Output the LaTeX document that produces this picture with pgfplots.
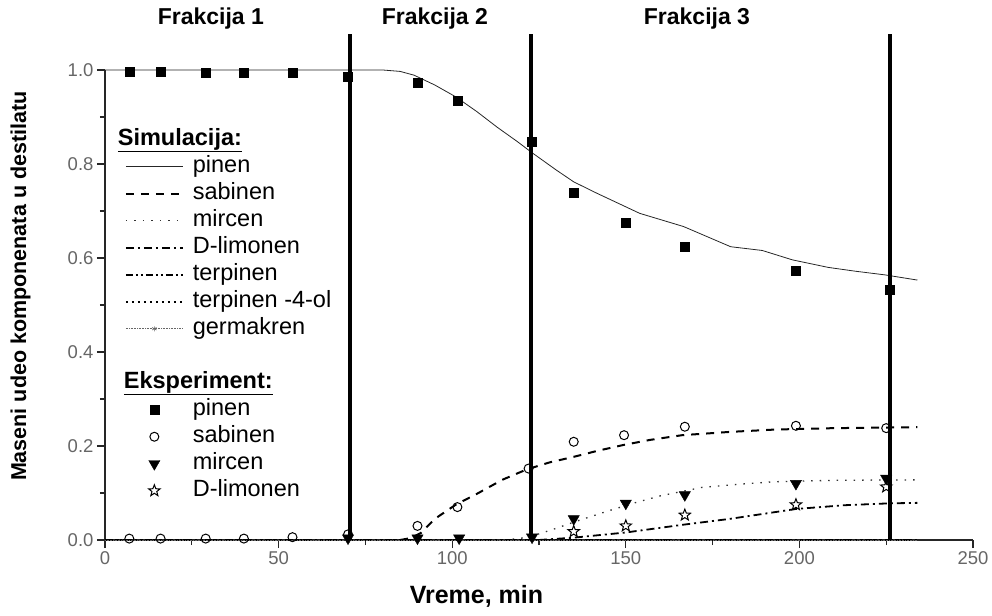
\documentclass[border=0pt]{standalone}
\usepackage{fontspec}
\setmainfont{Liberation Sans}
\usepackage{pgfplots}
\pgfplotsset{compat=1.18}
\usetikzlibrary{plotmarks}
\pgfdeclareplotmark{ostar}{%
  \pgfpathmoveto{\pgfpointpolar{90}{\pgfplotmarksize}}%
  \pgfpathlineto{\pgfpointpolar{126}{0.42\pgfplotmarksize}}%
  \pgfpathlineto{\pgfpointpolar{162}{\pgfplotmarksize}}%
  \pgfpathlineto{\pgfpointpolar{198}{0.42\pgfplotmarksize}}%
  \pgfpathlineto{\pgfpointpolar{234}{\pgfplotmarksize}}%
  \pgfpathlineto{\pgfpointpolar{270}{0.42\pgfplotmarksize}}%
  \pgfpathlineto{\pgfpointpolar{306}{\pgfplotmarksize}}%
  \pgfpathlineto{\pgfpointpolar{342}{0.42\pgfplotmarksize}}%
  \pgfpathlineto{\pgfpointpolar{18}{\pgfplotmarksize}}%
  \pgfpathlineto{\pgfpointpolar{54}{0.42\pgfplotmarksize}}%
  \pgfpathclose\pgfusepathqstroke}
\begin{document}
\begin{tikzpicture}[x=1pt,y=1pt]
\useasboundingbox (-105,-75) rectangle (887,540);
\begin{axis}[
  at={(0,0)}, anchor=south west,
  scale only axis, width=868pt, height=470pt,
  xmin=0, xmax=250, ymin=0, ymax=1,
  axis x line*=bottom, axis y line*=left,
  x axis line style={-}, y axis line style={-},
  axis line style={black!85, line width=2pt},
  xtick={0,50,100,150,200,250}, minor x tick num=1,
  ytick={0,0.2,0.4,0.6,0.8,1}, minor y tick num=1,
  tick align=outside, tick style={black!85, line width=1.3pt},
  major tick length=8pt, minor tick length=5pt,
  /pgf/number format/assume math mode=true,
  yticklabel style={/pgf/number format/fixed, /pgf/number format/fixed zerofill, /pgf/number format/precision=1},
  xticklabel style={/pgf/number format/fixed},
  ticklabel style={font=\fontsize{18.5}{18.5}\selectfont, text=black!60},
  xlabel={\textbf{Vreme, min}},
  ylabel={\textbf{Maseni udeo komponenata u destilatu}},
  xlabel style={font=\fontsize{25}{25}\selectfont, at={(axis description cs:0.428,-0.12)}, anchor=center},
  ylabel style={font=\fontsize{21.5}{21.5}\selectfont, at={(axis description cs:-0.0974,0.54)}, anchor=center},
  clip=false,
  legend style={draw=none, fill=none, at={(axis cs:4.8,0.885)}, anchor=north west,
    font=\fontsize{23.5}{23.5}\selectfont, row sep=0pt, column sep=6pt,
    nodes={text height=16pt, text depth=5pt, inner sep=3pt}},
  legend cell align=left,
  legend image code/.code={\draw[mark repeat=2,mark phase=2,#1] plot coordinates {(0pt,0pt) (28.5pt,0pt) (57pt,0pt)};},
]
% ---- legend
\addlegendimage{empty legend}\addlegendentry{\hspace*{-75pt}\underline{\textbf{Simulacija:}}}
\addlegendimage{black!85, line width=0.8pt}\addlegendentry{pinen}
\addlegendimage{black, line width=2pt, dash pattern=on 8pt off 7pt}\addlegendentry{sabinen}
\addlegendimage{black!80, line width=1.3pt, dash pattern=on 1.5pt off 7pt}\addlegendentry{mircen}
\addlegendimage{black, line width=1.8pt, dash pattern=on 8pt off 4pt on 2pt off 4pt}\addlegendentry{D-limonen}
\addlegendimage{black, line width=1.6pt, dash pattern=on 7pt off 3pt on 2pt off 3pt on 2pt off 3pt}\addlegendentry{terpinen}
\addlegendimage{black, line width=1.5pt, dash pattern=on 2pt off 4pt}\addlegendentry{terpinen -4-ol}
\addlegendimage{black!60, line width=0.6pt, densely dotted, mark=asterisk, mark size=2.5pt, mark options={solid}}\addlegendentry{germakren}
\addlegendimage{empty legend}\addlegendentry{\strut}
\addlegendimage{empty legend}\addlegendentry{\hspace*{-69pt}\underline{\textbf{Eksperiment:}}}
\addlegendimage{only marks, mark=square*, mark size=4.5pt, black}\addlegendentry{pinen}
\addlegendimage{only marks, mark=o, mark size=4.5pt, black, mark options={line width=1pt}}\addlegendentry{sabinen}
\addlegendimage{only marks, mark=triangle*, mark size=6.5pt, black, mark options={rotate=180}}\addlegendentry{mircen}
\addlegendimage{only marks, mark=ostar, mark size=6pt, black, mark options={line width=1pt}}\addlegendentry{D-limonen}

% ---- simulation curves
\addplot[forget plot, black!85, line width=0.8pt] coordinates {
 (0,1) (80,1) (85,0.997) (89,0.989) (95,0.968) (101,0.943) (107,0.912) (113,0.878)
 (118.7,0.848) (123,0.824) (130,0.787) (135,0.762) (141.6,0.738) (154,0.695)
 (166.6,0.667) (180.2,0.624) (189.3,0.616) (198,0.596) (208.3,0.580) (216,0.572)
 (224.7,0.564) (234,0.553)};
\addplot[forget plot, black, line width=2pt, dash pattern=on 8pt off 7pt] coordinates {
 (85,0) (88,0.004) (91,0.015) (95,0.045) (101,0.075) (107.3,0.099) (114.4,0.128)
 (121.4,0.150) (128,0.165) (135,0.177) (142,0.19) (149.2,0.202) (157,0.213)
 (166.2,0.223) (180,0.23) (193,0.235) (210,0.238) (234,0.24)};
\addplot[forget plot, black!80, line width=1.3pt, dash pattern=on 1.5pt off 7pt] coordinates {
 (115,0) (120,0.004) (125,0.013) (130,0.025) (135,0.038) (145,0.062) (153,0.08)
 (160,0.094) (172,0.112) (185,0.12) (193,0.124) (210,0.127) (234,0.128)};
\addplot[forget plot, black, line width=1.8pt, dash pattern=on 8pt off 4pt on 2pt off 4pt] coordinates {
 (125,0) (135,0.005) (150,0.016) (167,0.033) (180,0.045) (199,0.066) (213,0.074)
 (226,0.078) (234,0.079)};
\addplot[forget plot, black, line width=1.6pt, dash pattern=on 7pt off 3pt on 2pt off 3pt on 2pt off 3pt] coordinates {
 (0,0) (234,0)};
\addplot[forget plot, black, line width=1.5pt, dash pattern=on 2pt off 4pt] coordinates {
 (0,0) (234,0)};
\addplot[forget plot, black!60, line width=0.6pt, densely dotted] coordinates {
 (0,0) (234,0)};

% ---- fraction boundaries
\addplot[forget plot, black, line width=4pt] coordinates {(70.5,0) (70.5,1.077)};
\addplot[forget plot, black, line width=4pt] coordinates {(122.7,0) (122.7,1.077)};
\addplot[forget plot, black, line width=4pt] coordinates {(226,0) (226,1.077)};

% ---- experimental points
\addplot[forget plot, only marks, mark=square*, mark size=4.5pt, black] coordinates {
 (7,0.996) (16,0.996) (29,0.995) (40,0.995) (54,0.995) (70,0.986) (90,0.972)
 (101.5,0.935) (123,0.847) (135,0.738) (150,0.675) (167,0.624) (199,0.574) (226,0.533)};
\addplot[forget plot, only marks, mark=o, mark size=4.5pt, black, mark options={line width=1pt, fill=white}] coordinates {
 (7,0.003) (16,0.003) (29,0.003) (40,0.003) (54,0.006) (70,0.012) (90,0.03)
 (101.5,0.07) (122,0.152) (135,0.209) (149.5,0.223) (167,0.241) (199,0.243) (225,0.238)};
\addplot[forget plot, only marks, mark=triangle*, mark size=6.5pt, black, mark options={rotate=180}] coordinates {
 (70,0.004) (90,0.004) (102,0.004) (123,0.006) (135,0.045) (150,0.078) (167,0.096) (199,0.12) (225,0.131)};
\addplot[forget plot, only marks, mark=ostar, mark size=6pt, black, mark options={line width=1pt}] coordinates {
 (135,0.018) (150,0.03) (167,0.053) (199,0.075) (225,0.113)};

% ---- fraction titles
\node[font=\bfseries\fontsize{23}{23}\selectfont] at (axis cs:30.5,1.11) {Frakcija 1};
\node[font=\bfseries\fontsize{23}{23}\selectfont] at (axis cs:95,1.11) {Frakcija 2};
\node[font=\bfseries\fontsize{23}{23}\selectfont] at (axis cs:170.5,1.11) {Frakcija 3};
\end{axis}
\end{tikzpicture}
\end{document}
